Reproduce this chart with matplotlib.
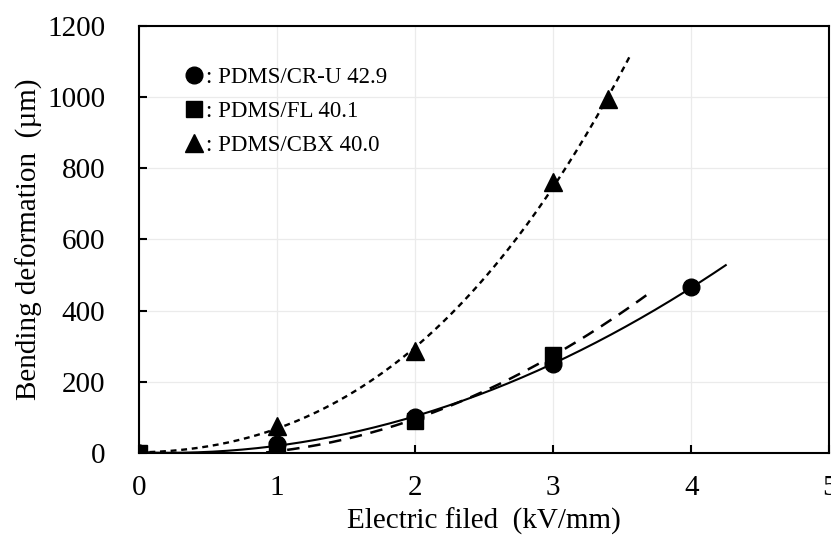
import numpy as np
import matplotlib
matplotlib.use('Agg')
import matplotlib.pyplot as plt
from matplotlib.lines import Line2D

# measured points
field_cru = [0, 1, 2, 3, 4]
bend_cru = [0, 25, 100, 250, 465]

field_fl = [0, 1, 2, 3]
bend_fl = [0, 10, 90, 275]

field_cbx = [0, 1, 2, 3, 3.4]
bend_cbx = [0, 75, 285, 760, 995]

labels = [': PDMS/CR-U 42.9', ': PDMS/FL 40.1', ': PDMS/CBX 40.0']

plt.rcParams['font.family'] = ['Liberation Serif', 'DejaVu Serif']

fig = plt.figure(figsize=(8.31, 5.36), dpi=100)
ax = fig.add_axes([0.167, 0.155, 0.831, 0.797])

def trend(x, y, deg, xend):
    coef = np.polyfit(x, y, deg)
    xs = np.linspace(0, xend, 200)
    return xs, np.polyval(coef, xs)

# trend lines
xs, ys = trend(field_cru, bend_cru, 2, 4.25)
ax.plot(xs, ys, color='black', lw=1.5, ls='-', zorder=2)
xs, ys = trend(field_fl, bend_fl, 2, 3.7)
ax.plot(xs, ys, color='black', lw=1.8, ls=(0, (5, 3.5)), zorder=2)
xs, ys = trend(field_cbx, bend_cbx, 3, 3.56)
ax.plot(xs, ys, color='black', lw=1.7, ls=(0, (2.5, 2)), zorder=2)

# markers
ms = 12
ax.plot(field_cbx, bend_cbx, '^', color='black', ms=ms + 1, ls='none', zorder=3)
ax.plot(field_cru, bend_cru, 'o', color='black', ms=ms, ls='none', zorder=4)
ax.plot(field_fl, bend_fl, 's', color='black', ms=ms, ls='none', zorder=5)

ax.set_xlim(0, 5)
ax.set_ylim(0, 1200)
ax.set_xticks(range(0, 6))
ax.set_yticks(range(0, 1201, 200))
ax.grid(True, color='#ebebeb', lw=0.9, zorder=0)
ax.set_axisbelow(True)
for s in ax.spines.values():
    s.set_linewidth(1.5)
    s.set_color('black')
ax.tick_params(direction='in', length=6, width=1.5, labelsize=21)
ax.tick_params(axis='x', pad=16)
ax.tick_params(axis='y', pad=24)
ax.set_xlabel('Electric filed  (kV/mm)', fontsize=21, labelpad=5)
ax.set_ylabel('Bending deformation  (µm)', fontsize=21, labelpad=3)

handles = [Line2D([], [], marker='o', color='black', ls='none', ms=ms),
           Line2D([], [], marker='s', color='black', ls='none', ms=ms),
           Line2D([], [], marker='^', color='black', ls='none', ms=ms + 1)]
ax.legend(handles, labels, loc='upper left', bbox_to_anchor=(0.047, 0.925),
          frameon=False, fontsize=16.5, handletextpad=-0.1, handlelength=1.2,
          labelspacing=0.57, borderaxespad=0)

fig.savefig('out.png', dpi=100)
